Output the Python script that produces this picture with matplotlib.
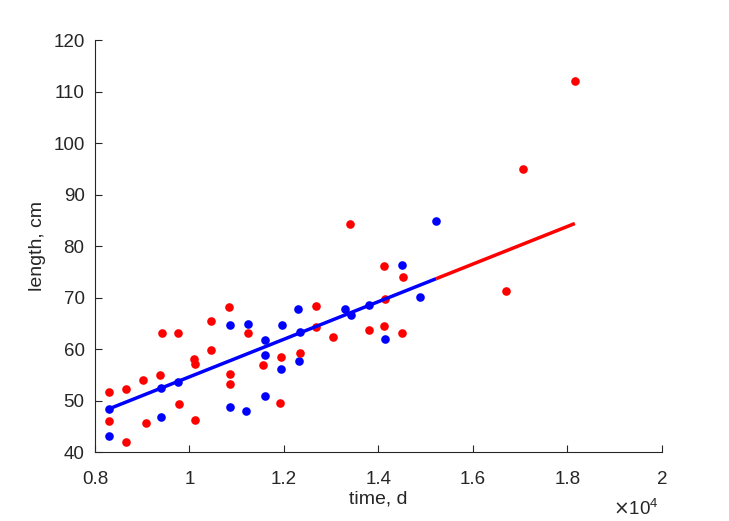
import matplotlib
matplotlib.use("Agg")
import matplotlib.pyplot as plt
import numpy as np

plt.rcParams['font.family'] = ['Liberation Sans', 'DejaVu Sans']

# Blue group (time in days, length in cm)
blue_time = [8305, 8305, 9400, 9400, 9750, 10860, 10860, 11230, 11200, 11600,
             11600, 11600, 11960, 11940, 12290, 12345, 12316, 13300, 13426,
             13810, 14130, 14506, 14870, 15220]
blue_len = [48.4, 43.2, 52.5, 46.8, 53.6, 64.75, 48.8, 64.8, 48.0, 61.8,
            58.9, 50.8, 64.6, 56.1, 67.8, 63.3, 57.7, 67.7, 66.7,
            68.6, 62.0, 76.3, 70.1, 84.8]

# Red group
red_time = [8300, 8290, 8660, 8660, 9025, 9080, 9370, 9420, 9750, 9770,
            10090, 10120, 10125, 10466, 10466, 10830, 10850, 10850, 11230,
            11560, 11930, 11920, 12345, 12680, 12680, 13036, 13400, 13790,
            14117, 14140, 14117, 14520, 14500, 16695, 17060, 18157]
red_len = [51.7, 46.1, 42.0, 52.3, 54.0, 45.7, 54.9, 63.1, 63.2, 49.3,
           58.15, 57.0, 46.2, 59.9, 65.5, 68.2, 55.1, 53.3, 63.1,
           56.85, 58.4, 49.5, 59.3, 68.3, 64.2, 62.3, 84.2, 63.65,
           76.2, 69.7, 64.5, 74.0, 63.1, 71.3, 95.05, 112.06]

# Linear fit: length = intercept + slope * time
fit_intercept = 18.1
fit_slope = 36.5e-4

fig = plt.figure(figsize=(7.29, 5.21), dpi=100)
ax = fig.add_axes([0.1303, 0.1324, 0.908 - 0.1303, 0.9232 - 0.1324])

ax.plot(blue_time, blue_len, 'o', color=(0, 0, 1), markersize=6.2,
        markeredgewidth=0, zorder=2)
ax.plot(red_time, red_len, 'o', color=(1, 0, 0), markersize=6.2,
        markeredgewidth=0, zorder=3)

t_blue = np.array([min(blue_time), max(blue_time)])
t_red = np.array([max(blue_time), max(red_time)])
ax.plot(t_blue, fit_intercept + fit_slope * t_blue, '-', color=(0, 0, 1),
        linewidth=2.5, solid_capstyle='butt', zorder=4)
ax.plot(t_red, fit_intercept + fit_slope * t_red, '-', color=(1, 0, 0),
        linewidth=2.5, solid_capstyle='butt', zorder=4)

ax.set_xlim(8000, 20000)
ax.set_ylim(40, 120)
xt = [8000, 10000, 12000, 14000, 16000, 18000, 20000]
xtl = ['0.8', '1', '1.2', '1.4', '1.6', '1.8', '2']
ax.set_xticks(xt)
ax.set_xticklabels(xtl)
yt = list(range(40, 121, 10))
ax.set_yticks(yt)

gray = (0.15, 0.15, 0.15)
for s in ['top', 'right']:
    ax.spines[s].set_visible(False)
for s in ['left', 'bottom']:
    ax.spines[s].set_color(gray)
    ax.spines[s].set_linewidth(0.8)
ax.tick_params(direction='in', length=5, width=0.8, colors=gray,
               labelsize=13.5)
ax.tick_params(axis='x', pad=14)
ax.tick_params(axis='y', pad=7.5)

ax.set_xlabel('time, d', fontsize=14, color=gray, labelpad=1.5)
ax.set_ylabel('length, cm', fontsize=14, color=gray, labelpad=5)

ax.text(1.0 - 3 / 567, (452 - 515) / 412, r'$\times$$\mathregular{10^{4}}$',
        transform=ax.transAxes, ha='right', va='baseline',
        fontsize=13.5, color=gray)

fig.savefig('out.png', dpi=100)
